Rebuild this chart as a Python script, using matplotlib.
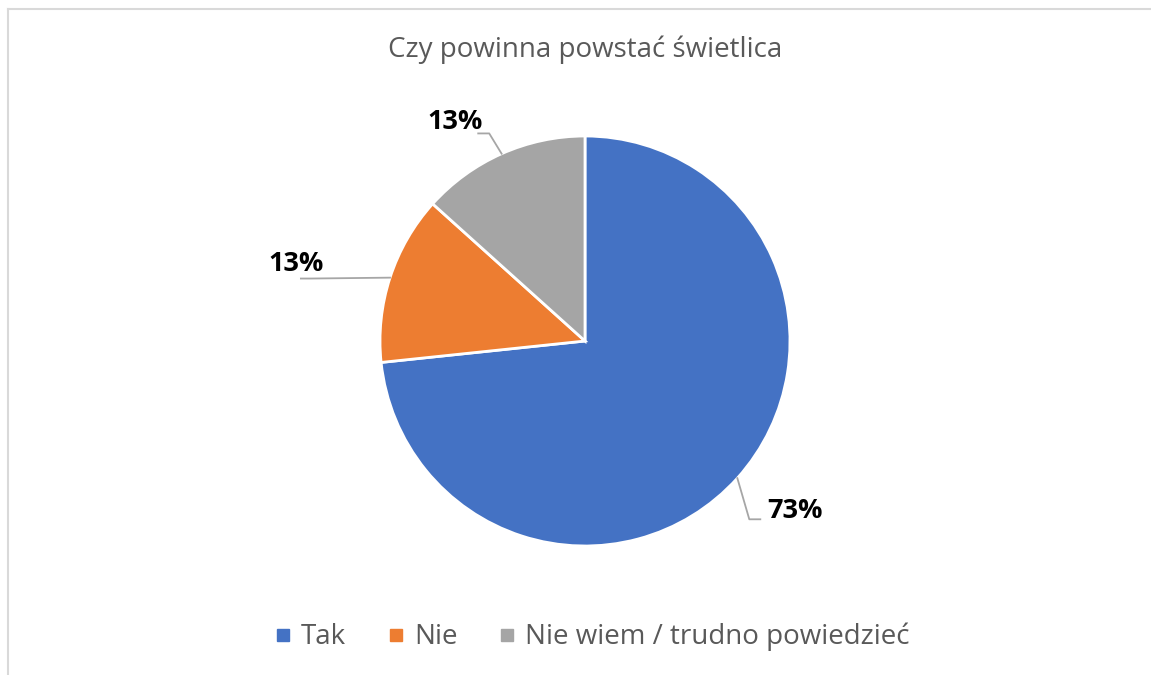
import numpy as np
import matplotlib.pyplot as plt
from matplotlib.lines import Line2D

title = "Czy powinna powstać świetlica"
categories = ["Tak", "Nie", "Nie wiem / trudno powiedzieć"]
counts = [11, 2, 2]
colors = ["#4472c4", "#ed7d31", "#a5a5a5"]

W, H = 1151, 675
fig = plt.figure(figsize=(W / 100, H / 100), dpi=100)
ax = fig.add_axes([0, 0, 1, 1])

# light frame: only top and left edges are visible in the original
fig.add_artist(Line2D([8 / W, 1], [1 - 9 / H, 1 - 9 / H], transform=fig.transFigure,
                      color="#d9d9d9", linewidth=1.5))
fig.add_artist(Line2D([8 / W, 8 / W], [0, 1 - 9 / H], transform=fig.transFigure,
                      color="#d9d9d9", linewidth=1.5))

cx, cy, r = 585, H - 341, 205
wedges, _ = ax.pie(counts, colors=colors, center=(cx, cy), radius=r, startangle=90,
                   counterclock=False, frame=True,
                   wedgeprops=dict(edgecolor="white", linewidth=2))
ax.set_xlim(0, W)
ax.set_ylim(0, H)
ax.set_aspect("equal")
ax.axis("off")

# label layout: (radius factor, angle shift), leader elbow offset, leader end offset (pixels)
label_pos = [(1.32, 3.0), (1.46, 3.0), (1.24, 6.7)]
elbow = [(-46, -8), (15, -15), (34, -11)]
tail = [(-35, -8), (5, -15), (23, -11)]

total = sum(counts)
for i, w in enumerate(wedges):
    mid = np.deg2rad((w.theta1 + w.theta2) / 2)
    ex, ey = cx + r * np.cos(mid), cy + r * np.sin(mid)
    f, dshift = label_pos[i]
    a = mid + np.deg2rad(dshift)
    lx, ly = cx + f * r * np.cos(a), cy + f * r * np.sin(a)
    ax.plot([ex, lx + elbow[i][0], lx + tail[i][0]], [ey, ly + elbow[i][1], ly + tail[i][1]],
            color="#a6a6a6", linewidth=1.3)
    ax.text(lx, ly, f"{round(100 * counts[i] / total)}%", ha="center", va="center",
            fontsize=19.5, fontweight="bold", color="black", family="Open Sans")

fig.text(585 / W, 1 - 50 / H, title, ha="center", va="center", fontsize=20,
         color="#595959", family="Open Sans")

handles = [Line2D([], [], marker="s", linestyle="none", markersize=9, color=c) for c in colors]
fig.legend(handles, categories, loc="center", bbox_to_anchor=(592 / W, 1 - 637 / H), ncol=3,
           frameon=False, prop=dict(family="Open Sans", size=20), labelcolor="#595959",
           handlelength=0.6, handletextpad=0.35, columnspacing=1.5)

fig.savefig("out.png", dpi=100)
